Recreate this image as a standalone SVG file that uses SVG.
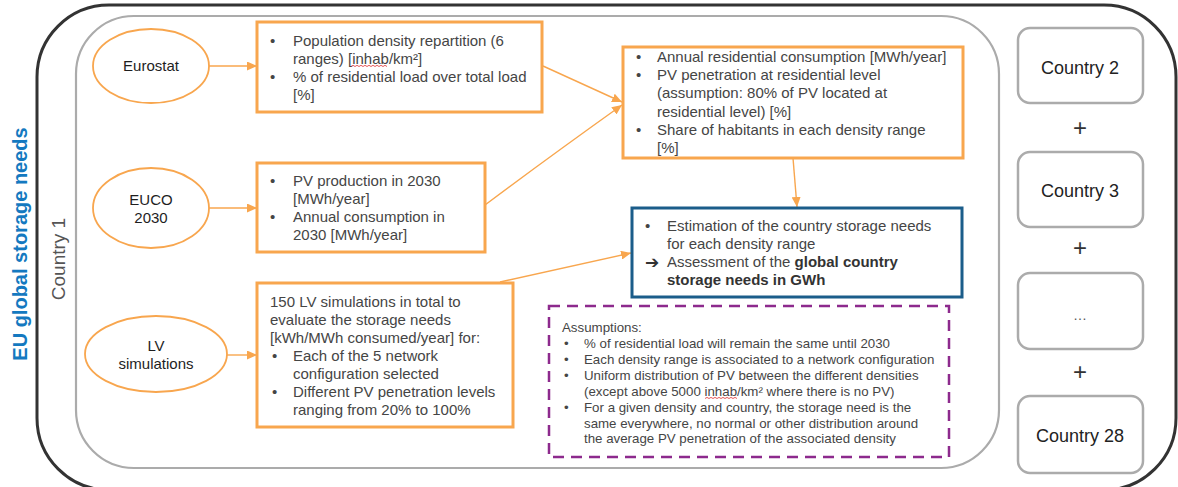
<svg xmlns="http://www.w3.org/2000/svg" width="1178" height="487" viewBox="0 0 1178 487">
<defs>
<marker id="arr" markerWidth="10" markerHeight="9" refX="10" refY="4.5" orient="auto" markerUnits="userSpaceOnUse">
<path d="M0,0 L10,4.5 L0,9 z" fill="#f8a64e"/>
</marker>
<style>
text{font-family:"Liberation Sans",Arial,sans-serif}
.t{font-size:15px;fill:#454545}
.s{font-size:13.3px;fill:#454545}
.el{font-size:15px;fill:#1e1e1e}
.ell{fill:#fff;stroke:#f8a64e;stroke-width:1.8}
.box{fill:#fff;stroke:#f8a64e;stroke-width:3}
.con{fill:none;stroke:#f8a64e;stroke-width:1.4}
.cb{fill:#fff;stroke:#ababab;stroke-width:2.5}
.ct{font-size:18px;fill:#222;text-anchor:middle}
.plus{font-size:24px;fill:#333;text-anchor:middle}
.wave{fill:none;stroke:#e03030;stroke-width:0.8}
</style>
</defs>
<rect width="1178" height="487" fill="#fff"/>
<g id="eu-frame">
<rect x="37" y="5" width="1139" height="485" rx="72" ry="72" fill="none" stroke="#333" stroke-width="3"/>
<text transform="translate(27,244) rotate(-90)" text-anchor="middle" style="font-size:20px;font-weight:bold;fill:#1479c0">EU global storage needs</text>
</g>
<g id="country1">
<rect x="76" y="16" width="923" height="452" rx="58" ry="58" fill="none" stroke="#ababab" stroke-width="2.2"/>
<text transform="translate(65,259) rotate(-90)" text-anchor="middle" style="font-size:19px;fill:#555">Country 1</text>
</g>
<g id="connectors">
<line class="con" x1="209" y1="66" x2="257" y2="66" marker-end="url(#arr)"/>
<line class="con" x1="209" y1="208" x2="257" y2="208" marker-end="url(#arr)"/>
<line class="con" x1="227" y1="355" x2="257" y2="355" marker-end="url(#arr)"/>
<line class="con" x1="543" y1="66" x2="622" y2="102" marker-end="url(#arr)"/>
<path class="con" d="M485,205 Q545,160 622,105" marker-end="url(#arr)"/>
<line class="con" x1="500" y1="282" x2="631" y2="253" marker-end="url(#arr)"/>
<line class="con" x1="793" y1="158" x2="797" y2="207" marker-end="url(#arr)"/>
</g>
<g id="eurostat">
<ellipse class="ell" cx="151" cy="66" rx="58" ry="37"/>
<text class="el" x="151" y="71" text-anchor="middle">Eurostat</text>
</g>
<g id="euco">
<ellipse class="ell" cx="151" cy="208" rx="58" ry="40"/>
<text class="el" x="151" y="204.5" text-anchor="middle">EUCO</text>
<text class="el" x="151" y="222.5" text-anchor="middle">2030</text>
</g>
<g id="lv">
<ellipse class="ell" cx="156" cy="354" rx="71" ry="38"/>
<text class="el" x="156" y="351" text-anchor="middle">LV</text>
<text class="el" x="156" y="369" text-anchor="middle">simulations</text>
</g>
<g id="eurostat-data">
<rect class="box" x="257" y="22" width="285" height="90"/>
<text class="t" x="270" y="46">•</text>
<text class="t" x="293" y="46">Population density repartition (6</text>
<text class="t" x="293" y="64">ranges) [inhab/km²]</text>
<path class="wave" d="M351,66.5 l2,-1.2 l2,1.2 l2,-1.2 l2,1.2 l2,-1.2 l2,1.2 l2,-1.2 l2,1.2 l2,-1.2 l2,1.2 l2,-1.2 l2,1.2 l2,-1.2 l2,1.2 l2,-1.2 l2,1.2 l2,-1.2 l2,1.2"/>
<text class="t" x="270" y="82">•</text>
<text class="t" x="293" y="82">% of residential load over total load</text>
<text class="t" x="293" y="100">[%]</text>
</g>
<g id="euco-data">
<rect class="box" x="257" y="163" width="228" height="89"/>
<text class="t" x="270" y="186">•</text>
<text class="t" x="293" y="186">PV production in 2030</text>
<text class="t" x="293" y="204">[MWh/year]</text>
<text class="t" x="270" y="222">•</text>
<text class="t" x="293" y="222">Annual consumption in</text>
<text class="t" x="293" y="240">2030 [MWh/year]</text>
</g>
<g id="lv-data">
<rect class="box" x="257" y="283" width="256" height="144"/>
<text class="t" x="270" y="307">150 LV simulations in total to</text>
<text class="t" x="270" y="325">evaluate the storage needs</text>
<text class="t" x="270" y="343">[kWh/MWh consumed/year] for:</text>
<text class="t" x="272" y="361">•</text>
<text class="t" x="293" y="361">Each of the 5 network</text>
<text class="t" x="293" y="379">configuration selected</text>
<text class="t" x="272" y="397">•</text>
<text class="t" x="293" y="397">Different PV penetration levels</text>
<text class="t" x="293" y="415">ranging from 20% to 100%</text>
</g>
<g id="residential-data">
<rect class="box" x="623" y="47" width="340" height="111"/>
<text class="t" x="636" y="62">•</text>
<text class="t" x="657" y="62">Annual residential consumption [MWh/year]</text>
<text class="t" x="636" y="80">•</text>
<text class="t" x="657" y="80">PV penetration at residential level</text>
<text class="t" x="657" y="98">(assumption: 80% of PV located at</text>
<text class="t" x="657" y="117">residential level) [%]</text>
<text class="t" x="636" y="135">•</text>
<text class="t" x="657" y="135">Share of habitants in each density range</text>
<text class="t" x="657" y="153">[%]</text>
</g>
<g id="result">
<rect x="632" y="208" width="330" height="89" fill="#fff" stroke="#1b5d8a" stroke-width="3"/>
<text class="t" x="645" y="231">•</text>
<text class="t" x="667" y="231">Estimation of the country storage needs</text>
<text class="t" x="667" y="249">for each density range</text>
<text x="645" y="268" style="font-family:'DejaVu Sans',sans-serif;font-size:17px;font-weight:bold;fill:#333">➔</text>
<text class="t" x="667" y="267">Assessment of the <tspan font-weight="bold" fill="#333">global country</tspan></text>
<text class="t" x="667" y="285" font-weight="bold" style="fill:#333">storage needs in GWh</text>
</g>
<g id="assumptions">
<rect x="549" y="306" width="400" height="151" fill="#fff" stroke="#8d2a8d" stroke-width="2.5" stroke-dasharray="11 7"/>
<text class="s" x="562" y="332">Assumptions:</text>
<text class="s" x="564" y="348">•</text>
<text class="s" x="584" y="348">% of residential load will remain the same until 2030</text>
<text class="s" x="564" y="364">•</text>
<text class="s" x="584" y="364">Each density range is associated to a network configuration</text>
<text class="s" x="564" y="380">•</text>
<text class="s" x="584" y="380">Uniform distribution of PV between the different densities</text>
<text class="s" x="584" y="396">(except above 5000 inhab/km² where there is no PV)</text>
<path class="wave" d="M705,398.5 l2,-1.1 l2,1.1 l2,-1.1 l2,1.1 l2,-1.1 l2,1.1 l2,-1.1 l2,1.1 l2,-1.1 l2,1.1 l2,-1.1 l2,1.1 l2,-1.1 l2,1.1 l2,-1.1 l2,1.1"/>
<text class="s" x="564" y="412">•</text>
<text class="s" x="584" y="412">For a given density and country, the storage need is the</text>
<text class="s" x="584" y="428">same everywhere, no normal or other distribution around</text>
<text class="s" x="584" y="443">the average PV penetration of the associated density</text>
</g>
<g id="country2">
<rect class="cb" x="1018" y="28" width="125" height="75" rx="12"/>
<text class="ct" x="1080" y="73.5">Country 2</text>
</g>
<text class="plus" x="1080" y="136">+</text>
<g id="country3">
<rect class="cb" x="1018" y="152" width="125" height="75" rx="12"/>
<text class="ct" x="1080" y="196.5">Country 3</text>
</g>
<text class="plus" x="1080" y="256">+</text>
<g id="country-etc">
<rect class="cb" x="1018" y="273" width="125" height="76" rx="12"/>
<text class="ct" x="1080" y="320" style="font-size:14px;fill:#555">…</text>
</g>
<text class="plus" x="1080" y="380">+</text>
<g id="country28">
<rect class="cb" x="1018" y="396" width="125" height="77" rx="12"/>
<text class="ct" x="1080" y="441.5">Country 28</text>
</g>
</svg>
